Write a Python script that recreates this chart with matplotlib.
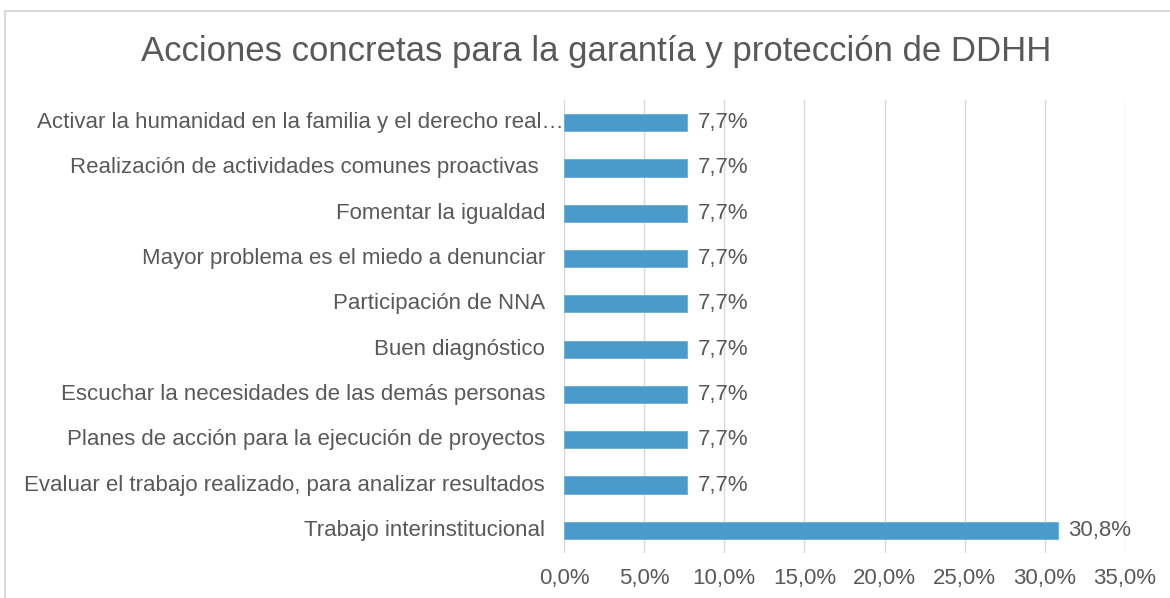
import matplotlib
matplotlib.use("Agg")
import matplotlib.pyplot as plt
from matplotlib.patches import Rectangle
from matplotlib.ticker import FuncFormatter, MultipleLocator

categories = [
    "Activar la humanidad en la familia y el derecho real…",
    "Realización de actividades comunes proactivas ",
    "Fomentar la igualdad",
    "Mayor problema es el miedo a denunciar",
    "Participación de NNA",
    "Buen diagnóstico",
    "Escuchar la necesidades de las demás personas",
    "Planes de acción para la ejecución de proyectos",
    "Evaluar el trabajo realizado, para analizar resultados",
    "Trabajo interinstitucional",
]
values = [7.7, 7.7, 7.7, 7.7, 7.7, 7.7, 7.7, 7.7, 7.7, 30.8]
title = "Acciones concretas para la garantía y protección de DDHH"

plt.rcParams['font.family'] = ['Liberation Sans', 'DejaVu Sans']
txt = '#595959'
fs = 16
fig = plt.figure(figsize=(11.7, 5.98), dpi=100)
fig.patches.append(Rectangle((5/1170, -0.1), 1.2, 1 - 11/598 + 0.1, transform=fig.transFigure,
                             fill=False, edgecolor='#d9d9d9', linewidth=1.5))
ax = fig.add_axes([564/1170, 1 - 553/598, (1125 - 564)/1170, (553 - 100)/598])

y = list(range(len(categories)))
ax.barh(y, values, height=0.38, color='#4a9bcb', edgecolor='#6aaed6', linewidth=0.6, zorder=3)
ax.set_ylim(len(categories) - 0.5, -0.5)
ax.set_xlim(0, 35)
ax.xaxis.set_major_locator(MultipleLocator(5))
ax.xaxis.set_major_formatter(FuncFormatter(lambda v, p: f"{v:.1f}%".replace('.', ',')))
ax.grid(axis='x', color='#d9d9d9', linewidth=1, zorder=0)
for s in ax.spines.values():
    s.set_visible(False)
ax.tick_params(axis='x', length=0, pad=11, labelsize=fs, labelcolor=txt)
ax.set_yticks([])

for i, (c, v) in enumerate(zip(categories, values)):
    pad = 0 if i == 0 else 19
    ax.annotate(c, xy=(0, i), xycoords=('axes fraction', 'data'), xytext=(-pad, 0),
                textcoords='offset pixels', ha='right', va='center', fontsize=fs, color=txt)
    ax.annotate(f"{v:.1f}%".replace('.', ','), xy=(v, i), xytext=(10, 0),
                textcoords='offset pixels', ha='left', va='center', fontsize=fs, color=txt)

fig.text(596/1170, 1 - 52/598, title, ha='center', va='center', fontsize=25, color=txt)
fig.savefig("out.png", dpi=100)
